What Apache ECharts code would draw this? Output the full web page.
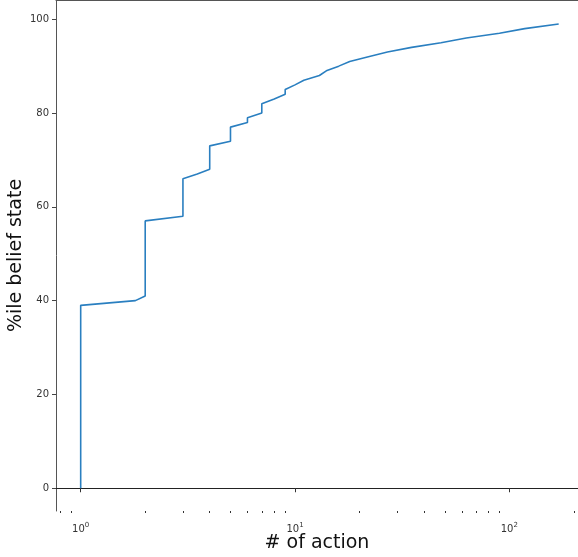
<!DOCTYPE html>
<html>
<head>
<meta charset="utf-8">
<script src="https://cdn.jsdelivr.net/npm/echarts@6/dist/echarts.min.js"></script>
<style>
  html, body { margin: 0; padding: 0; background: #fff; }
  #chart { width: 578px; height: 557px; }
</style>
</head>
<body>
<div id="chart"></div>
<script>
// # of action (x) vs percentile (y)
var actionCounts = [1, 1, 1.8, 2, 2, 3, 3, 3.5, 4, 4, 5, 5, 6, 6, 7, 7, 8, 9, 9, 10, 11, 13, 14, 16, 18, 22, 27, 35, 48, 63, 90, 118, 170];
var percentiles  = [0, 39, 40, 41, 57, 58, 66, 67, 68, 73, 74, 77, 78, 79, 80, 82, 83, 84, 85, 86, 87, 88, 89, 90, 91, 92, 93, 94, 95, 96, 97, 98, 99];

var xMajorTicks = [1, 10, 100];
var xMinorTicks = [0.8, 0.9, 2, 3, 4, 5, 6, 7, 8, 9, 20, 30, 40, 50, 60, 70, 80, 90, 200];
var yTicks = [0, 20, 40, 60, 80, 100];

var font = 'DejaVu Sans';
var xMin = 0.767, xMax = 209.2;

var seriesData = actionCounts.map(function (v, i) { return [v, percentiles[i]]; });

var chart = echarts.init(document.getElementById('chart'));
chart.setOption({
  animation: false,
  grid: { left: 56, right: 0, top: 0, bottom: 46, containLabel: false, outerBoundsMode: 'none' },
  xAxis: [{
    type: 'log', logBase: 10, min: xMin, max: xMax,
    position: 'bottom',
    name: '# of action', nameLocation: 'middle', nameGap: 23, nameMoveOverlap: false,
    nameTextStyle: { fontFamily: font, fontSize: 19, color: '#111' },
    axisLine: { show: true, lineStyle: { color: '#222', width: 1 } },
    axisTick: { show: true, length: 4, customValues: xMajorTicks, lineStyle: { color: '#333' } },
    axisLabel: {
      customValues: xMajorTicks, margin: 11,
      formatter: function (v) { return '{b|10}{s|' + Math.round(Math.log10(v)) + '}'; },
      rich: {
        b: { fontFamily: font, fontSize: 10, color: '#333', verticalAlign: 'bottom', lineHeight: 12 },
        s: { fontFamily: font, fontSize: 7, color: '#333', verticalAlign: 'top', lineHeight: 12 }
      }
    },
    splitLine: { show: false }
  }, {
    type: 'log', logBase: 10, min: xMin, max: xMax,
    position: 'bottom',
    axisLine: { show: false },
    axisTick: { show: true, length: 2, customValues: xMinorTicks, lineStyle: { color: '#333' } },
    axisLabel: { show: false },
    splitLine: { show: false }
  }, {
    type: 'log', logBase: 10, min: xMin, max: xMax,
    position: 'top',
    axisLine: { show: true, lineStyle: { color: '#555', width: 1 } },
    axisTick: { show: false },
    axisLabel: { show: false },
    splitLine: { show: false }
  }],
  yAxis: {
    type: 'value', min: -4.85, max: 104.1,
    name: '%ile belief state', nameLocation: 'middle', nameGap: 30, nameMoveOverlap: false,
    nameTextStyle: { fontFamily: font, fontSize: 19, color: '#111' },
    axisLine: { show: true, lineStyle: { color: '#555', width: 1 } },
    axisTick: { show: true, length: 4, customValues: yTicks, lineStyle: { color: '#444' } },
    axisLabel: { customValues: yTicks, margin: 7, fontFamily: font, fontSize: 10, color: '#333' },
    splitLine: { show: false }
  },
  series: [{
    type: 'line',
    xAxisIndex: 0,
    data: seriesData,
    symbol: 'none',
    lineStyle: { color: '#2a7fc0', width: 1.6 }
  }]
});
</script>
</body>
</html>
